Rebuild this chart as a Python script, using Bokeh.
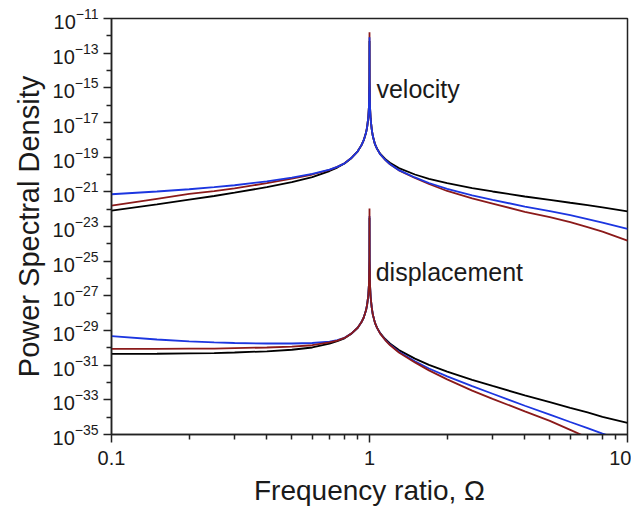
from bokeh.plotting import figure
from bokeh.models import FixedTicker, CustomJSTickFormatter, Label, Range1d, LogTickFormatter, Title
from bokeh.embed import file_html
from bokeh.resources import INLINE

# Frequency ratio samples
omega = [0.1, 0.15, 0.2, 0.25, 0.3, 0.4, 0.5, 0.6, 0.7, 0.75, 0.8, 0.85, 0.9, 0.93, 0.95,
         0.97, 0.98, 0.99, 0.995, 0.999, 1.0, 1.001, 1.005, 1.01, 1.02, 1.03, 1.05, 1.07,
         1.1, 1.15, 1.2, 1.3, 1.5, 1.7, 2, 2.5, 3, 4, 5, 6, 7, 8, 10]

# log10 of PSD values
vel_black = [-22.08, -21.72, -21.45, -21.24, -21.05, -20.73, -20.44, -20.15, -19.80, -19.60, -19.37, -19.06,
             -18.66, -18.32, -18.02, -17.58, -17.22, -16.65, -16.06, -14.68, -12.30, -14.72, -16.15, -16.78,
             -17.38, -17.78, -18.25, -18.52, -18.80, -19.10, -19.32, -19.63, -20.00, -20.25, -20.50, -20.78,
             -20.98, -21.27, -21.46, -21.63, -21.77, -21.90, -22.13]
vel_brown = [-21.79, -21.40, -21.12, -20.96, -20.80, -20.50, -20.24, -20.00, -19.73, -19.56, -19.35, -19.05,
             -18.66, -18.32, -18.02, -17.58, -17.22, -16.65, -16.06, -14.50, -11.79, -14.60, -16.15, -16.78,
             -17.38, -17.78, -18.25, -18.52, -18.83, -19.16, -19.41, -19.76, -20.20, -20.55, -20.95, -21.38,
             -21.68, -22.15, -22.46, -22.75, -23.04, -23.30, -23.81]
vel_blue = [-21.14, -20.98, -20.85, -20.73, -20.62, -20.40, -20.18, -19.97, -19.72, -19.56, -19.36, -19.05,
            -18.66, -18.32, -18.02, -17.58, -17.22, -16.65, -16.06, -14.60, -12.08, -14.65, -16.15, -16.78,
            -17.38, -17.78, -18.25, -18.52, -18.83, -19.15, -19.40, -19.75, -20.17, -20.49, -20.83, -21.20,
            -21.46, -21.85, -22.11, -22.35, -22.57, -22.77, -23.14]

disp_black = [-30.35, -30.34, -30.32, -30.31, -30.27, -30.20, -30.11, -29.98, -29.76, -29.62, -29.45, -29.19,
              -28.84, -28.53, -28.25, -27.82, -27.47, -26.91, -26.33, -24.95, -22.50, -24.99, -26.42, -27.06,
              -27.67, -28.08, -28.56, -28.85, -29.15, -29.49, -29.75, -30.13, -30.62, -30.98, -31.37, -31.85,
              -32.20, -32.74, -33.13, -33.46, -33.73, -33.98, -34.33]
disp_blue = [-29.33, -29.52, -29.63, -29.69, -29.72, -29.75, -29.75, -29.72, -29.64, -29.56, -29.42, -29.18,
             -28.84, -28.53, -28.25, -27.82, -27.47, -26.91, -26.33, -24.95, -22.40, -24.99, -26.42, -27.06,
             -27.67, -28.08, -28.56, -28.85, -29.17, -29.53, -29.81, -30.23, -30.77, -31.19, -31.65, -32.21,
             -32.65, -33.34, -33.85, -34.28, -34.63, -34.95, -35.43]
disp_brown = [-30.06, -30.06, -30.05, -30.05, -30.02, -29.98, -29.93, -29.85, -29.69, -29.58, -29.43, -29.18,
              -28.84, -28.53, -28.25, -27.82, -27.47, -26.91, -26.33, -24.80, -21.96, -24.90, -26.42, -27.06,
              -27.67, -28.08, -28.56, -28.85, -29.18, -29.55, -29.84, -30.27, -30.84, -31.30, -31.82, -32.47,
              -32.94, -33.67, -34.21, -34.73, -35.18, -35.60, -36.23]

x_major = [0.1, 1, 10]
x_minor = [0.2, 0.3, 0.4, 0.5, 0.6, 0.7, 0.8, 0.9, 2, 3, 4, 5, 6, 7, 8, 9]
y_major_exp = [-11, -13, -15, -17, -19, -21, -23, -25, -27, -29, -31, -33, -35]
y_minor_exp = [-12, -14, -16, -18, -20, -22, -24, -26, -28, -30, -32, -34]

BLACK = "#000000"
BROWN = "#8b1a1a"
BLUE = "#1c36e0"
FONT = "Liberation Sans"
TXT = "#1a1a1a"


def lin(v):
    return [10.0 ** e for e in v]


p = figure(width=631, height=508, x_axis_type="log", y_axis_type="log",
           x_range=Range1d(0.1, 10), y_range=Range1d(1e-35, 1e-11),
           output_backend="svg", toolbar_location=None,
           min_border_left=111, min_border_right=4, min_border_top=18, min_border_bottom=74)
p.background_fill_color = "white"
p.border_fill_color = "white"
p.grid.visible = False
p.outline_line_color = "#222222"
p.outline_line_width = 1.5

lw = 1.8
p.line(omega, lin(vel_black), line_color=BLACK, line_width=lw)
p.line(omega, lin(vel_brown), line_color=BROWN, line_width=lw)
p.line(omega, lin(vel_blue), line_color=BLUE, line_width=lw)
p.line(omega, lin(disp_black), line_color=BLACK, line_width=lw)
p.line(omega, lin(disp_blue), line_color=BLUE, line_width=lw)
p.line(omega, lin(disp_brown), line_color=BROWN, line_width=lw)

p.xaxis.ticker = FixedTicker(ticks=x_major, minor_ticks=x_minor)
p.xaxis.formatter = CustomJSTickFormatter(code="return tick < 1 ? tick.toFixed(1) : tick.toFixed(0);")
p.yaxis.ticker = FixedTicker(ticks=[10.0 ** e for e in y_major_exp],
                             minor_ticks=[10.0 ** e for e in y_minor_exp])
p.yaxis.formatter = LogTickFormatter()

for ax in (p.xaxis[0], p.yaxis[0]):
    ax.axis_line_color = "#222222"
    ax.axis_line_width = 1.5
    ax.major_tick_line_color = "#222222"
    ax.minor_tick_line_color = "#222222"
    ax.major_tick_line_width = 1.5
    ax.minor_tick_line_width = 1.5
    ax.major_tick_in = 0
    ax.major_tick_out = 8
    ax.minor_tick_in = 0
    ax.minor_tick_out = 5
    ax.major_label_text_font = FONT
    ax.major_label_text_font_size = "20px"
    ax.major_label_text_color = TXT
    ax.axis_label_text_font = FONT
    ax.axis_label_text_font_style = "normal"
    ax.axis_label_text_color = TXT

p.xaxis.axis_label = "Frequency ratio, Ω"
p.xaxis.axis_label_text_font_size = "28px"
p.xaxis.major_label_standoff = 8
p.xaxis.axis_label_standoff = 7
p.yaxis.major_label_standoff = 5

# y-axis title as a left-side title, shifted slightly below the frame centre
p.add_layout(Title(text="Power Spectral Density", align="center", offset=-17,
                   text_font=FONT, text_font_size="29px", text_font_style="normal",
                   text_color=TXT), "left")

p.add_layout(Label(x=1.064, y=10 ** -15.04, text="velocity", text_font=FONT,
                   text_font_size="25px", text_color=TXT, text_baseline="alphabetic"))
p.add_layout(Label(x=1.057, y=10 ** -25.62, text="displacement", text_font=FONT,
                   text_font_size="25px", text_color=TXT, text_baseline="alphabetic"))

open("out.html", "w").write(file_html(p, INLINE))
